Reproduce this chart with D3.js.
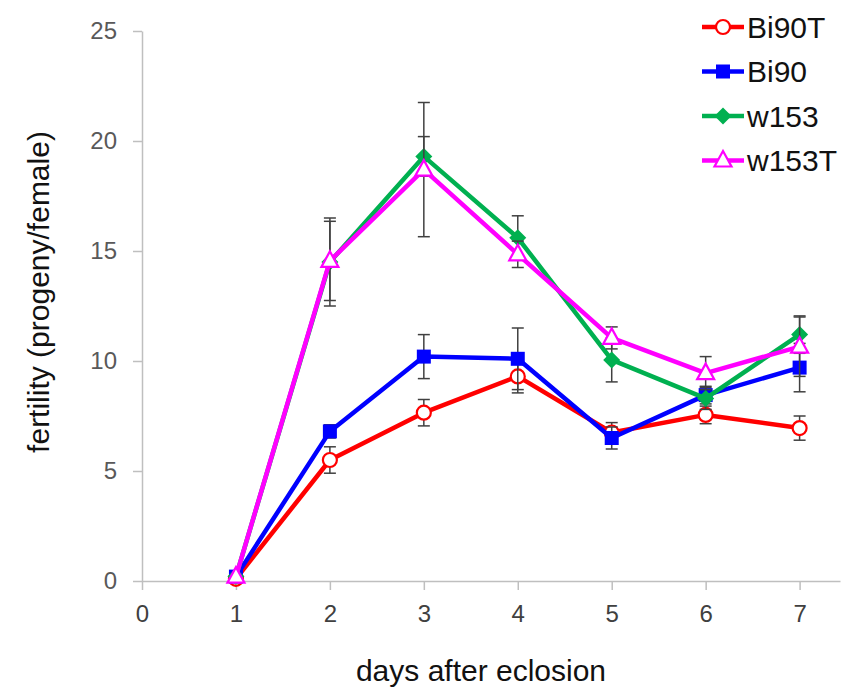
<!DOCTYPE html>
<html>
<head>
<meta charset="utf-8">
<script src="https://cdn.jsdelivr.net/npm/d3@7"></script>
<style>
  body { margin: 0; background: #fff; }
  text { font-family: 'Liberation Sans', Arial, sans-serif; }
</style>
</head>
<body>
<div id="chart"></div>
<script>
// data
let days = [1, 2, 3, 4, 5, 6, 7];
let seriesNames = ['Bi90T', 'Bi90', 'w153', 'w153T'];
let bi90T = [0.1, 5.5, 7.65, 9.3, 6.75, 7.55, 6.95];
let bi90TErr = [0, 0.6, 0.6, 0.75, 0.45, 0.4, 0.55];
let bi90 = [0.2, 6.8, 10.2, 10.1, 6.5, 8.45, 9.7];
let bi90Err = [0, 0.3, 1.0, 1.4, 0.5, 0.4, 1.1];
let w153 = [0.2, 14.5, 19.3, 15.6, 10.05, 8.3, 11.2];
let w153Err = [0, 2.0, 0.9, 1.0, 1.0, 0.5, 0.85];
let w153T = [0.2, 14.55, 18.7, 14.85, 11.05, 9.45, 10.65];
let w153TErr = [0, 1.8, 3.05, 0.6, 0.5, 0.75, 1.35];
let yTicks = [0, 5, 10, 15, 20, 25];
let xTicks = [0, 1, 2, 3, 4, 5, 6, 7];

let yAxisLabel = 'fertility (progeny/female)';
let xAxisLabel = 'days after eclosion';

let width = 842, height = 688;
let margin = { top: 31, right: 2, bottom: 107, left: 142 };

let series = [
  { name: seriesNames[0], values: bi90T, err: bi90TErr, color: '#ff0000', marker: 'circle' },
  { name: seriesNames[1], values: bi90, err: bi90Err, color: '#0000ff', marker: 'square' },
  { name: seriesNames[2], values: w153, err: w153Err, color: '#00b050', marker: 'diamond' },
  { name: seriesNames[3], values: w153T, err: w153TErr, color: '#ff00ff', marker: 'triangle' },
];

let x = d3.scaleLinear().domain([0, 7.43]).range([margin.left, width - margin.right]);
let y = d3.scaleLinear().domain([0, 25]).range([height - margin.bottom, margin.top]);

const svg = d3.select('#chart').append('svg')
  .attr('width', width).attr('height', height);

// axes
let yAxis = (g) => g
  .attr('transform', `translate(${margin.left},0)`)
  .call(d3.axisLeft(y).tickValues(yTicks).tickSize(9).tickPadding(16).tickSizeOuter(0))
  .call((g) => g.select('.domain').attr('stroke', '#bfbfbf').attr('stroke-width', 1.5))
  .call((g) => g.selectAll('.tick line').attr('stroke', '#bfbfbf').attr('stroke-width', 1.5))
  .call((g) => g.selectAll('.tick text').attr('fill', '#595959').style('font-size', '24px'));

let xAxis = (g) => g
  .attr('transform', `translate(0,${y(0)})`)
  .call(d3.axisBottom(x).tickValues(xTicks).tickSize(9).tickPadding(15).tickSizeOuter(0))
  .call((g) => g.select('.domain').attr('stroke', '#bfbfbf').attr('stroke-width', 1.5))
  .call((g) => g.selectAll('.tick line').attr('stroke', '#bfbfbf').attr('stroke-width', 1.5))
  .call((g) => g.selectAll('.tick text').attr('fill', '#404040').style('font-size', '24px'));

svg.append('g').attr('class', 'y-axis').call(yAxis);
svg.append('g').attr('class', 'x-axis').call(xAxis);

// axis labels
svg.append('text')
  .attr('transform', `translate(38,292) rotate(-90)`)
  .attr('text-anchor', 'middle')
  .attr('dy', '0.35em')
  .style('font-size', '30px')
  .attr('fill', '#111')
  .text(yAxisLabel);

svg.append('text')
  .attr('x', 481).attr('y', 681)
  .attr('text-anchor', 'middle')
  .style('font-size', '30px')
  .attr('fill', '#111')
  .text(xAxisLabel);

// marker drawing
let drawMarker = (g, s, cx, cy) => {
  if (s.marker === 'circle') {
    g.append('circle').attr('cx', cx).attr('cy', cy).attr('r', 7)
      .attr('fill', '#fff').attr('stroke', s.color).attr('stroke-width', 2.2);
  } else if (s.marker === 'square') {
    g.append('rect').attr('x', cx - 7).attr('y', cy - 7).attr('width', 14).attr('height', 14)
      .attr('fill', s.color);
  } else if (s.marker === 'diamond') {
    g.append('path').attr('d', `M${cx},${cy - 8.5}L${cx + 8.5},${cy}L${cx},${cy + 8.5}L${cx - 8.5},${cy}Z`)
      .attr('fill', s.color);
  } else {
    g.append('path').attr('d', `M${cx},${cy - 9.5}L${cx + 8.5},${cy + 6}L${cx - 8.5},${cy + 6}Z`)
      .attr('fill', '#fff').attr('stroke', s.color).attr('stroke-width', 2.2);
  }
};

let line = d3.line().x((d) => x(d.day)).y((d) => y(d.v));

series.forEach((s) => {
  let data = days.map((d, i) => ({ day: d, v: s.values[i], e: s.err[i] }));
  let g = svg.append('g').attr('class', 'series');

  // error bars
  data.filter((d) => d.e > 0).forEach((d) => {
    let eg = g.append('g').attr('stroke', '#404040').attr('stroke-width', 1.5);
    eg.append('line').attr('x1', x(d.day)).attr('x2', x(d.day))
      .attr('y1', y(d.v + d.e)).attr('y2', y(d.v - d.e));
    [d.v + d.e, d.v - d.e].forEach((v) => {
      eg.append('line').attr('x1', x(d.day) - 6).attr('x2', x(d.day) + 6)
        .attr('y1', y(v)).attr('y2', y(v));
    });
  });

  g.append('path').datum(data)
    .attr('d', line)
    .attr('fill', 'none')
    .attr('stroke', s.color)
    .attr('stroke-width', 4.5)
    .attr('stroke-linejoin', 'round');

  data.forEach((d) => drawMarker(g, s, x(d.day), y(d.v)));
});

// legend
let legend = svg.append('g').attr('class', 'legend');
series.forEach((s, i) => {
  let ly = 27 + i * 44.5;
  let lg = legend.append('g');
  lg.append('line').attr('x1', 702).attr('x2', 744).attr('y1', ly).attr('y2', ly)
    .attr('stroke', s.color).attr('stroke-width', 4.5);
  drawMarker(lg, s, 723, ly);
  lg.append('text').attr('x', 747).attr('y', ly).attr('dy', '0.36em')
    .style('font-size', '30px').attr('fill', '#111').text(s.name);
});
</script>
</body>
</html>
